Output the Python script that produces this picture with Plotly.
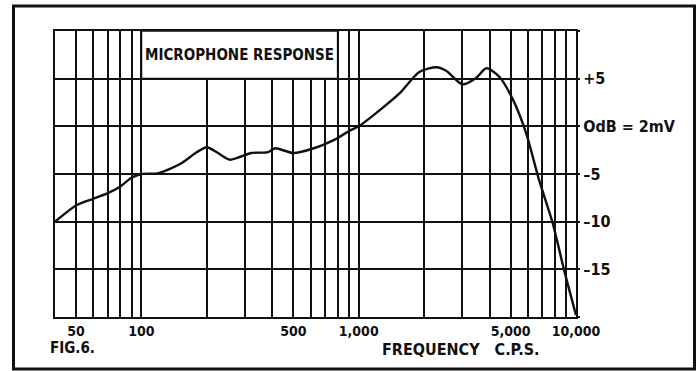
import math
import plotly.graph_objects as go

# Microphone response curve (frequency in c.p.s., level in dB re 2 mV)
freq_hz = [40, 50, 60, 70, 80, 90, 100, 120, 152, 180, 200, 225, 256, 320, 383, 412,
           500, 622, 767, 918, 1000, 1250, 1540, 1900, 2280, 2535, 3000, 3480, 3865,
           4435, 5140, 5900, 6765, 7800, 8800, 10000]
level_db = [-10.0, -8.3, -7.6, -7.0, -6.3, -5.4, -5.0, -4.9, -3.9, -2.7, -2.2, -2.8, -3.5,
            -2.8, -2.7, -2.3, -2.8, -2.3, -1.45, -0.4, 0.0, 1.7, 3.45, 5.7, 6.2, 5.8, 4.4,
            5.1, 6.1, 5.2, 2.75, -0.75, -5.65, -10.1, -15.0, -19.8]

# Log-paper grid lines and labelled frequencies
grid_freqs = [40, 50, 60, 70, 80, 90, 100, 200, 300, 400, 500, 600, 700, 800, 900,
              1000, 2000, 3000, 4000, 5000, 6000, 7000, 8000, 9000, 10000]
freq_labels = {50: "50", 100: "100", 500: "500", 1000: "1,000", 5000: "5,000", 10000: "10,000"}

db_grid = [-20, -15, -10, -5, 0, 5, 10]
db_labels = {-15: "\u201315", -10: "\u201310", -5: "\u20135", 0: "OdB = 2mV", 5: "+5"}

title_band_hz = [100, 800]
title_band_db = [5, 10]

FONT = "DejaVu Sans Condensed, Liberation Sans, Arial, sans-serif"
INK = "#111111"

fig = go.Figure()
fig.add_trace(go.Scatter(
    x=freq_hz, y=level_db, mode="lines",
    line=dict(color=INK, width=2.4, shape="spline", smoothing=0.7),
    hoverinfo="skip", showlegend=False,
))

L, R, T, B = 55, 122, 31, 54
W, H = 698, 371
pw, ph = W - L - R, H - T - B


def px_to_paper_x(px):
    return (px - L) / pw


def px_to_paper_y(py):
    return (H - B - py) / ph


fig.update_layout(
    width=W, height=H,
    margin=dict(l=L, r=R, t=T, b=B),
    paper_bgcolor="white", plot_bgcolor="white",
    xaxis=dict(
        type="log", range=[math.log10(40), 4],
        tickvals=grid_freqs,
        ticktext=[freq_labels.get(f, "") for f in grid_freqs],
        showgrid=True, gridcolor=INK, gridwidth=1.6,
        showline=True, linecolor=INK, linewidth=2, mirror=True,
        ticks="", zeroline=False,
        tickfont=dict(family=FONT, size=14, color=INK, weight="bold"),
    ),
    yaxis=dict(
        range=[-20, 10], side="right",
        tickvals=db_grid,
        ticktext=[db_labels.get(v, "") for v in db_grid],
        showgrid=True, gridcolor=INK, gridwidth=1.6,
        showline=True, linecolor=INK, linewidth=2, mirror=True,
        ticks="outside", ticklen=2, tickcolor=INK, tickwidth=1.6,
        ticklabelstandoff=0,
        zeroline=False,
        tickfont=dict(family=FONT, size=16, color=INK, weight="bold"),
    ),
    shapes=[
        # title panel over the top band of the grid
        dict(type="rect", xref="x", yref="y", layer="above",
             x0=title_band_hz[0], x1=title_band_hz[1],
             y0=title_band_db[0], y1=title_band_db[1],
             fillcolor="white", line=dict(color=INK, width=1.6)),
        # outer figure frame
        dict(type="rect", xref="paper", yref="paper", layer="above",
             x0=px_to_paper_x(13.5), x1=px_to_paper_x(694.5),
             y0=px_to_paper_y(369), y1=px_to_paper_y(6),
             line=dict(color=INK, width=3)),
    ],
    annotations=[
        dict(text="MICROPHONE RESPONSE", xref="x", yref="y",
             x=(math.log10(title_band_hz[0]) + math.log10(title_band_hz[1])) / 2,
             y=sum(title_band_db) / 2, showarrow=False,
             font=dict(family=FONT, size=15, color=INK, weight="bold")),
        dict(text="FIG.6.", xref="paper", yref="paper",
             x=px_to_paper_x(48), y=px_to_paper_y(348), xanchor="left", yanchor="middle",
             showarrow=False, font=dict(family=FONT, size=15, color=INK, weight="bold")),
        dict(text="FREQUENCY   C.P.S.", xref="paper", yref="paper",
             x=px_to_paper_x(380), y=px_to_paper_y(349), xanchor="left", yanchor="middle",
             showarrow=False, font=dict(family=FONT, size=16, color=INK, weight="bold")),
    ],
)

fig.write_html("out.html")
